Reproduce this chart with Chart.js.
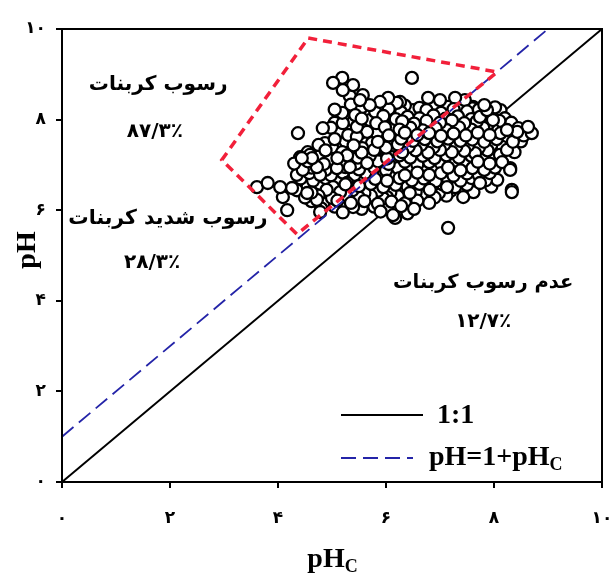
<!DOCTYPE html>
<html>
<head>
<meta charset="utf-8">
<script src="https://cdn.jsdelivr.net/npm/chart.js@4.4.1/dist/chart.umd.min.js"></script>
<style>
  html, body { margin: 0; padding: 0; background: #fff; }
  #wrap { width: 611px; height: 573px; }
</style>
</head>
<body>
<div id="wrap"><canvas id="chart" width="611" height="573"></canvas></div>
<script>
// ticks of both axes (Persian digits as in the figure)
const tickValues = [0, 2, 4, 6, 8, 10];
const tickLabels = ['۰', '۲', '۴', '۶', '۸', '۱۰'];

// reference lines
const lineOneToOne = [[0, 0], [10, 10]];
const lineShifted = [[0, 1], [9, 10]]; // pH = 1 + pHc

// red dashed envelope
const envelope = [[4.56, 9.80], [8.06, 9.05], [4.35, 5.47], [2.96, 7.11], [4.56, 9.80]];

// region texts
const regionNames = ['رسوب کربنات', 'رسوب شدید کربنات', 'عدم رسوب کربنات'];
const regionShares = ['۸۷/۳٪', '۲۸/۳٪', '۱۲/۷٪'];

// legend entries
const legendNames = ['1:1', 'pH=1+pH'];

// samples: [pHc, pH]
const samplesEdge = [
  [3.61, 6.51], [3.81, 6.60], [4.04, 6.51], [4.26, 6.49], [4.09, 6.29], [4.17, 6.00],
  [4.37, 7.70], [4.83, 7.81],
  [5.02, 8.81], [5.19, 8.92], [5.20, 8.65], [5.39, 8.76], [5.33, 8.52], [5.57, 8.54], [5.52, 8.43],
  [5.70, 8.32], [5.89, 8.39], [6.04, 8.48], [6.20, 8.37], [6.48, 8.92],
  [6.26, 8.39], [6.78, 8.48], [7.00, 8.43], [7.28, 8.48], [7.46, 8.43], [6.50, 8.21], [7.61, 8.28],
  [7.87, 8.21], [7.74, 8.06], [7.98, 7.99], [8.24, 7.77], [8.43, 7.73], [8.63, 7.84], [8.70, 7.70],
  [8.35, 7.51], [8.24, 7.33], [8.11, 7.22], [8.30, 6.93], [8.06, 6.67], [8.33, 6.45], [8.30, 6.89],
  [7.74, 6.60], [7.13, 6.51], [6.81, 6.45], [6.44, 6.38], [6.13, 5.89], [6.02, 6.29],
  [4.41, 7.17], [4.59, 7.22], [4.41, 6.89], [4.65, 6.89], [4.46, 6.67], [4.78, 6.73], [4.54, 6.38],
  [4.72, 6.23], [4.78, 5.96], [5.02, 6.51], [5.09, 6.29], [5.28, 6.60], [5.39, 6.07], [5.65, 6.38],
  [5.76, 6.60], [6.02, 6.38], [6.17, 5.83], [6.39, 6.29], [6.63, 6.51], [6.85, 6.38], [7.15, 5.61],
  [7.43, 6.29], [8.33, 6.40]
];

const samplesCore = [
  [5.19, 8.15], [5.43, 8.10], [5.20, 7.92], [5.46, 7.84], [5.70, 7.99], [5.65, 7.73], [5.83, 7.70],
  [5.94, 7.92], [6.13, 7.81], [4.87, 7.48], [4.44, 7.15], [4.63, 7.15], [4.72, 6.95], [4.96, 7.11],
  [5.19, 7.28], [5.37, 7.26], [5.56, 7.37], [5.46, 7.62], [5.74, 7.48], [5.94, 7.40], [6.11, 7.51],
  [6.13, 7.17], [5.89, 7.11], [5.65, 7.04], [5.33, 6.95], [5.09, 6.93], [4.46, 6.89], [4.78, 6.78],
  [5.35, 8.33], [5.55, 8.27], [6.35, 8.31], [6.62, 8.26], [6.90, 8.34], [7.15, 8.28], [7.38, 8.33], [7.60, 8.25], [7.82, 8.32], [8.02, 8.27],
  [5.05, 8.22], [5.80, 8.17], [6.05, 8.23], [6.28, 8.16], [6.75, 8.21], [7.02, 8.15], [7.25, 8.23], [7.50, 8.18], [7.72, 8.22], [7.95, 8.16], [8.12, 8.21],
  [5.30, 8.07], [5.55, 8.02], [5.95, 8.08], [6.18, 8.01], [6.40, 8.06], [6.62, 8.03], [6.88, 8.09], [7.10, 8.02], [7.33, 8.07], [7.58, 8.01], [7.82, 8.08], [8.20, 8.03],
  [5.05, 7.93], [5.40, 7.97], [5.82, 7.92], [6.30, 7.96], [6.52, 7.91], [6.75, 7.97], [7.00, 7.93], [7.22, 7.98], [7.45, 7.92], [7.68, 7.96], [7.90, 7.91], [8.10, 7.97], [8.32, 7.93],
  [4.98, 7.82], [5.62, 7.77], [5.98, 7.83], [6.25, 7.78], [6.45, 7.82], [6.68, 7.76], [6.92, 7.81], [7.12, 7.77], [7.35, 7.83], [7.58, 7.78], [7.80, 7.82], [8.00, 7.76], [8.45, 7.81],
  [5.30, 7.66], [5.52, 7.70], [6.05, 7.65], [6.35, 7.71], [6.58, 7.66], [6.80, 7.70], [7.02, 7.64], [7.25, 7.69], [7.48, 7.65], [7.70, 7.71], [7.92, 7.66], [8.12, 7.70], [8.55, 7.65],
  [5.05, 7.57], [5.25, 7.52], [5.62, 7.56], [5.85, 7.51], [6.28, 7.58], [6.50, 7.53], [6.72, 7.57], [6.95, 7.52], [7.15, 7.58], [7.38, 7.53], [7.60, 7.56], [7.82, 7.51], [8.05, 7.57], [8.50, 7.52],
  [4.75, 7.44], [5.00, 7.39], [5.40, 7.43], [6.00, 7.38], [6.22, 7.45], [6.42, 7.40], [6.65, 7.44], [6.88, 7.39], [7.08, 7.45], [7.30, 7.40], [7.52, 7.43], [7.72, 7.38], [7.95, 7.44], [8.15, 7.40],
  [4.55, 7.28], [4.88, 7.32], [5.55, 7.27], [5.78, 7.33], [6.30, 7.28], [6.55, 7.32], [6.78, 7.27], [7.00, 7.33], [7.22, 7.28], [7.45, 7.31], [7.65, 7.26], [7.88, 7.32], [8.38, 7.28],
  [4.78, 7.20], [5.10, 7.15], [5.28, 7.21], [5.48, 7.16], [5.70, 7.20], [6.02, 7.14], [6.25, 7.21], [6.45, 7.16], [6.68, 7.20], [6.90, 7.15], [7.12, 7.21], [7.35, 7.16], [7.58, 7.20], [7.80, 7.14], [8.02, 7.19],
  [4.30, 7.03], [4.55, 7.08], [4.85, 7.02], [5.20, 7.07], [5.45, 7.03], [5.85, 7.08], [6.05, 7.02], [6.35, 7.07], [6.58, 7.01], [6.80, 7.06], [7.02, 7.03], [7.25, 7.08], [7.48, 7.02], [7.70, 7.07], [7.92, 7.03], [8.15, 7.06],
  [4.62, 6.94], [4.88, 6.89], [5.25, 6.95], [5.50, 6.90], [5.78, 6.94], [6.00, 6.88], [6.22, 6.93], [6.48, 6.89], [6.70, 6.95], [6.92, 6.90], [7.15, 6.94], [7.38, 6.88], [7.60, 6.93], [7.82, 6.89], [8.02, 6.94],
  [4.35, 6.78], [4.58, 6.82], [4.98, 6.77], [5.20, 6.83], [5.42, 6.78], [5.62, 6.82], [5.88, 6.76], [6.12, 6.81], [6.35, 6.77], [6.58, 6.83], [6.80, 6.78], [7.02, 6.82], [7.25, 6.76], [7.50, 6.81], [7.72, 6.77], [7.92, 6.82],
  [4.42, 6.70], [4.65, 6.65], [4.88, 6.71], [5.12, 6.66], [5.35, 6.70], [5.58, 6.64], [5.80, 6.69], [6.02, 6.65], [6.25, 6.71], [6.48, 6.66], [6.70, 6.70], [6.92, 6.64], [7.15, 6.69], [7.38, 6.65], [7.58, 6.71], [7.85, 6.66],
  [4.55, 6.53], [4.78, 6.58], [5.02, 6.52], [5.25, 6.57], [5.50, 6.53], [5.72, 6.58], [5.95, 6.51], [6.18, 6.56], [6.40, 6.52], [6.62, 6.58], [6.85, 6.53], [7.05, 6.57], [7.28, 6.51], [7.50, 6.56], [7.95, 6.52],
  [4.35, 6.44], [4.62, 6.39], [4.90, 6.45], [5.15, 6.40], [5.38, 6.44], [5.60, 6.38], [5.85, 6.43], [6.08, 6.39], [6.30, 6.45], [6.55, 6.40], [6.72, 6.44], [6.98, 6.38], [7.20, 6.43], [7.62, 6.40],
  [4.50, 6.28], [4.75, 6.32], [5.00, 6.27], [5.25, 6.33], [5.50, 6.28], [5.72, 6.32], [5.95, 6.26], [6.22, 6.31], [6.45, 6.27], [6.65, 6.33], [6.90, 6.28], [7.12, 6.32],
  [4.62, 6.20], [4.85, 6.15], [5.10, 6.21], [5.35, 6.16], [5.60, 6.20], [5.85, 6.14], [6.10, 6.19], [6.35, 6.15], [6.58, 6.21], [6.80, 6.16],
  [4.80, 6.04], [5.05, 6.08], [5.55, 6.03], [5.78, 6.08], [6.02, 6.04], [6.28, 6.09], [6.52, 6.03],
  [5.20, 5.95], [5.90, 5.97], [6.40, 5.93]
];

const toXY = pairs => pairs.map(([x, y]) => ({ x, y }));

// mix the drawing order so the overlapping circles do not form rows
const drawOrder = pts => pts
    .map((p, i) => [p, (i * 7919) % 331])
    .sort((a, b) => a[1] - b[1])
    .map(e => e[0]);

const serif = '"Liberation Serif", "Times New Roman", serif';
const persian = '"DejaVu Sans", sans-serif';

// where the texts sit, in data units
const nameSpots = [[1.78, 8.76], [1.96, 5.81], [7.80, 4.39]];
const nameWidths = [139, 199, 180];
const shareSpots = [[1.72, 7.73], [1.67, 4.83], [7.80, 3.53]];

function fitFont(ctx, text, width, family) {
    ctx.font = `bold 20px ${family}`;
    const size = 20 * width / ctx.measureText(text).width;
    ctx.font = `bold ${size.toFixed(1)}px ${family}`;
}

// pH + subscript C, starting at x (left) on baseline y
function subText(ctx, main, x, y, size) {
    ctx.font = `bold ${size}px ${serif}`;
    ctx.textAlign = 'left';
    ctx.textBaseline = 'alphabetic';
    ctx.fillText(main, x, y);
    const w = ctx.measureText(main).width;
    ctx.font = `bold ${Math.round(size * 0.66)}px ${serif}`;
    ctx.fillText('C', x + w, y + size * 0.18);
    return w + ctx.measureText('C').width;
}

const decorations = {
    id: 'decorations',
    afterDatasetsDraw(chart) {
        const { ctx, chartArea: a, scales: { x, y } } = chart;
        ctx.save();
        ctx.strokeStyle = '#000';
        ctx.lineWidth = 2;
        ctx.strokeRect(a.left, a.top, a.right - a.left, a.bottom - a.top);

        // region texts
        ctx.fillStyle = '#000';
        ctx.textAlign = 'center';
        ctx.textBaseline = 'middle';
        regionNames.forEach((name, i) => {
            fitFont(ctx, name, nameWidths[i], persian);
            ctx.fillText(name, x.getPixelForValue(nameSpots[i][0]), y.getPixelForValue(nameSpots[i][1]));
        });
        ctx.font = `bold 20px ${persian}`;
        regionShares.forEach((share, i) => {
            ctx.fillText(share, x.getPixelForValue(shareSpots[i][0]), y.getPixelForValue(shareSpots[i][1]));
        });

        // legend
        const lx = a.left + 279;
        ctx.lineWidth = 2;
        ctx.beginPath();
        ctx.moveTo(lx, 415);
        ctx.lineTo(lx + 82, 415);
        ctx.stroke();
        ctx.strokeStyle = '#2424a8';
        ctx.setLineDash([15, 7]);
        ctx.beginPath();
        ctx.moveTo(lx, 458);
        ctx.lineTo(lx + 72, 458);
        ctx.stroke();
        ctx.setLineDash([]);
        ctx.font = `bold 28px ${serif}`;
        ctx.textAlign = 'left';
        ctx.textBaseline = 'alphabetic';
        ctx.fillText(legendNames[0], lx + 96, 423);
        subText(ctx, legendNames[1], lx + 88, 465, 28);

        // axis titles
        ctx.font = `bold 28px ${serif}`;
        const tw = ctx.measureText('pH').width + 12;
        subText(ctx, 'pH', (a.left + a.right) / 2 - tw / 2, 567, 28);
        ctx.translate(35, 250);
        ctx.rotate(-Math.PI / 2);
        ctx.font = `bold 28px ${serif}`;
        ctx.textAlign = 'center';
        ctx.fillText('pH', 0, 0);
        ctx.restore();
    }
};

const axisCommon = {
    type: 'linear',
    min: 0,
    max: 10,
    afterBuildTicks: scale => { scale.ticks = tickValues.map(v => ({ value: v })); },
    grid: { drawOnChartArea: false, drawTicks: true, tickLength: 6, color: '#000', lineWidth: 2 },
    border: { display: false },
};

new Chart(document.getElementById('chart'), {
    type: 'scatter',
    data: {
        datasets: [
            { label: 'envelope', data: toXY(envelope), showLine: true, borderColor: '#f2203a', borderWidth: 3.5,
              borderDash: [9, 6], pointRadius: 0, tension: 0, order: 0 },
            { label: legendNames[1], data: toXY(lineShifted), showLine: true, borderColor: '#2424a8', borderWidth: 1.8,
              borderDash: [15, 7], pointRadius: 0, order: 1 },
            { label: 'samples', data: toXY(drawOrder(samplesEdge.concat(samplesCore))), pointRadius: 6, borderWidth: 2.3,
              borderColor: '#000', backgroundColor: '#fff', order: 2 },
            { label: legendNames[0], data: toXY(lineOneToOne), showLine: true, borderColor: '#000', borderWidth: 2,
              pointRadius: 0, order: 3 },
        ]
    },
    options: {
        responsive: false,
        animation: false,
        events: [],
        layout: { padding: { top: 29, right: 9, left: 0, bottom: 0 } },
        plugins: { legend: { display: false }, tooltip: { enabled: false } },
        scales: {
            x: {
                ...axisCommon,
                afterFit: scale => { scale.height = 91; scale.paddingLeft = 0; scale.paddingRight = 0; },
                ticks: {
                    color: '#000', padding: 20, maxRotation: 0, autoSkip: false,
                    font: { family: persian, weight: 'bold', size: 17 },
                    callback: v => tickLabels[tickValues.indexOf(v)]
                }
            },
            y: {
                ...axisCommon,
                afterFit: scale => { scale.width = 62; scale.paddingTop = 0; scale.paddingBottom = 0; },
                ticks: {
                    color: '#000', padding: 10, autoSkip: false,
                    font: { family: persian, weight: 'bold', size: 17 },
                    callback: v => tickLabels[tickValues.indexOf(v)]
                }
            }
        }
    },
    plugins: [decorations]
});
</script>
</body>
</html>
